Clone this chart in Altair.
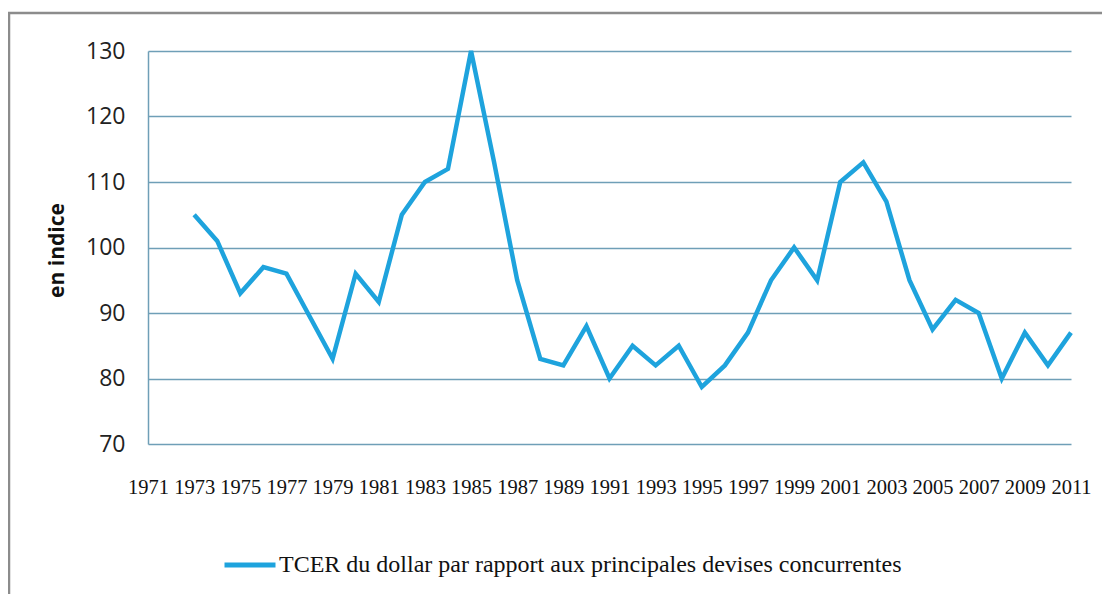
import altair as alt
import pandas as pd

years = list(range(1973, 2012))
values = [105, 101, 93, 97, 96, 89.5, 83, 96, 91.7, 105, 110, 112, 130, 113,
          95, 83, 82, 88, 80, 85, 82, 85, 78.7, 82, 87, 95, 100, 95, 110, 113,
          107, 95, 87.5, 92, 90, 80, 87, 82, 87]
x_ticks = list(range(1971, 2012, 2))
y_ticks = [70, 80, 90, 100, 110, 120, 130]
series_name = "TCER du dollar par rapport aux principales devises concurrentes"

LINE = "#1ea3dd"
GRID = "#6f9fb7"
FRAME = "#8c8c8c"
W, H = 923, 393

df = pd.DataFrame({"annee": years, "valeur": values, "serie": series_name})

line = alt.Chart(df).mark_line(strokeWidth=4.5, strokeJoin="miter").encode(
    x=alt.X("annee:Q",
            scale=alt.Scale(domain=[1971, 2011], nice=False, zero=False),
            axis=alt.Axis(values=x_ticks, format="d", title=None, grid=False,
                          ticks=False, domain=False, labelFont="Liberation Serif",
                          labelFontSize=20.5, labelColor="#111111", labelPadding=33,
                          labelOverlap=False, labelFlush=False)),
    y=alt.Y("valeur:Q",
            scale=alt.Scale(domain=[70, 130], nice=False, zero=False),
            axis=alt.Axis(values=y_ticks, title="en indice", grid=True,
                          gridColor=GRID, gridWidth=1.5, ticks=False,
                          domain=True, domainColor=GRID, domainWidth=1.5,
                          labelFont="Open Sans", labelFontSize=23,
                          labelColor="#222222", labelPadding=23,
                          titleFont="Open Sans", titleFontSize=21,
                          titleFontWeight="bold", titleColor="#111111",
                          titleAngle=-90, titleX=-91, titleY=199,
                          titleAlign="center", titleBaseline="middle")),
    color=alt.Color("serie:N",
                    scale=alt.Scale(domain=[series_name], range=[LINE]),
                    legend=alt.Legend(title=None, orient="none", legendX=74,
                                      legendY=486, symbolType="stroke",
                                      symbolStrokeWidth=5, symbolSize=2600,
                                      labelFont="Liberation Serif",
                                      labelFontSize=24, labelColor="#111111",
                                      labelOffset=1, labelLimit=900)),
)

frame_df = pd.DataFrame({"k": [0]})
top_rule = alt.Chart(frame_df).mark_rule(color=FRAME, strokeWidth=2.5).encode(
    x=alt.value(-140), x2=alt.value(W + 40), y=alt.value(-38))
left_rule = alt.Chart(frame_df).mark_rule(color=FRAME, strokeWidth=2.5).encode(
    x=alt.value(-139), y=alt.value(-38), y2=alt.value(H + 200))

chart = alt.layer(line, top_rule, left_rule).properties(
    width=W, height=H,
    autosize=alt.AutoSizeParams(type="none"),
    padding={"left": 140, "top": 43, "right": 31, "bottom": 150},
    background="white",
).configure_view(stroke=None).configure_legend(
    labelFont="Liberation Serif", labelFontSize=24)

chart.save("out.html", embed_options={"renderer": "svg", "actions": False})
